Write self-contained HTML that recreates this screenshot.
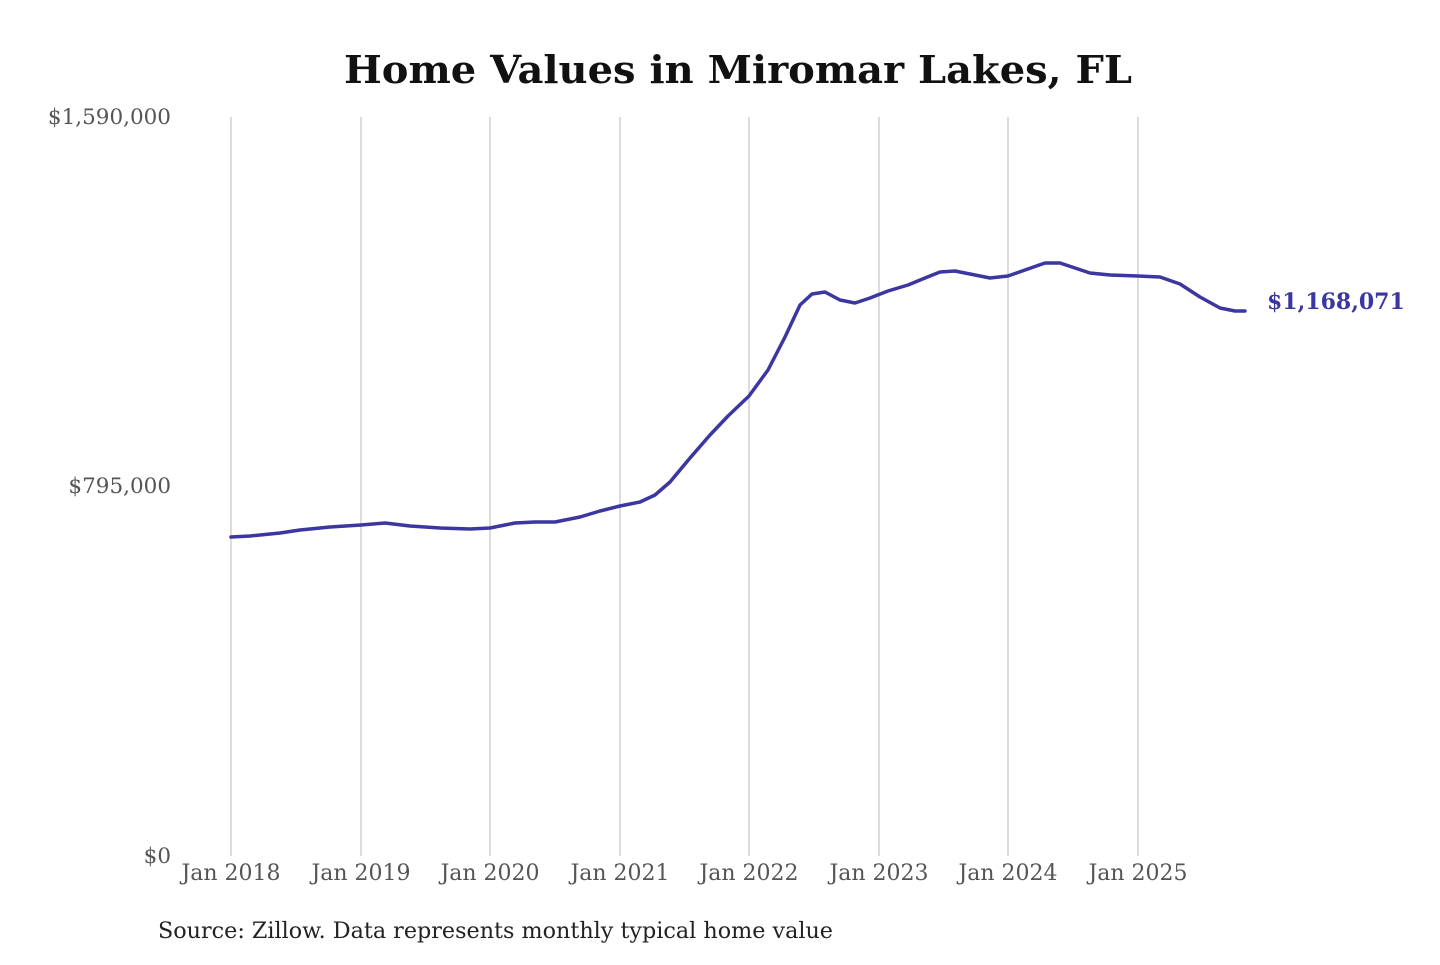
<!DOCTYPE html>
<html><head><meta charset="utf-8"><style>
body{margin:0;background:#fff;}
svg text{font-family:"DejaVu Serif","Liberation Serif",serif;}
</style></head><body>
<svg width="1440" height="960" viewBox="0 0 1440 960" xmlns="http://www.w3.org/2000/svg">
<rect width="1440" height="960" fill="#fff"/>
<text x="738" y="83" text-anchor="middle" font-size="38" font-weight="bold" fill="#111" textLength="788" lengthAdjust="spacingAndGlyphs">Home Values in Miromar Lakes, FL</text>
<g stroke="#c8c8c8" stroke-width="1.3">
<line x1="231" y1="117" x2="231" y2="856"/>
<line x1="361" y1="117" x2="361" y2="856"/>
<line x1="490" y1="117" x2="490" y2="856"/>
<line x1="620" y1="117" x2="620" y2="856"/>
<line x1="749" y1="117" x2="749" y2="856"/>
<line x1="879" y1="117" x2="879" y2="856"/>
<line x1="1008" y1="117" x2="1008" y2="856"/>
<line x1="1138" y1="117" x2="1138" y2="856"/>
</g>
<g font-size="21.5" fill="#555" text-anchor="end">
<text x="171" y="124">$1,590,000</text>
<text x="171" y="493">$795,000</text>
<text x="171" y="863">$0</text>
</g>
<g font-size="22" fill="#555" text-anchor="middle">
<text x="231" y="880">Jan 2018</text>
<text x="361" y="880">Jan 2019</text>
<text x="490" y="880">Jan 2020</text>
<text x="620" y="880">Jan 2021</text>
<text x="749" y="880">Jan 2022</text>
<text x="879" y="880">Jan 2023</text>
<text x="1008" y="880">Jan 2024</text>
<text x="1138" y="880">Jan 2025</text>
</g>
<polyline fill="none" stroke="#3b36a0" stroke-width="3.5" stroke-linejoin="round" stroke-linecap="round" points="231,537 250,536 280,533 300,530 330,527 361,525 385,523 410,526 440,528 470,529 490,528 515,523 535,522 555,522 580,517 600,511 620,506 640,502 655,495 670,482 690,458 710,435 728,416 749,396 768,370 785,337 800,305 812,294 825,292 840,300 855,303 870,298 888,291 908,285 925,278 940,272 955,271 970,274 990,278 1008,276 1025,270 1045,263 1060,263 1075,268 1090,273 1110,275 1138,276 1160,277 1180,284 1200,297 1220,308 1235,311 1245,311"/>
<text x="1267" y="309" font-size="22" font-weight="bold" fill="#3b36a0">$1,168,071</text>
<text x="158" y="938" font-size="22.5" fill="#222" textLength="675" lengthAdjust="spacingAndGlyphs">Source: Zillow. Data represents monthly typical home value</text>
</svg>
</body></html>
